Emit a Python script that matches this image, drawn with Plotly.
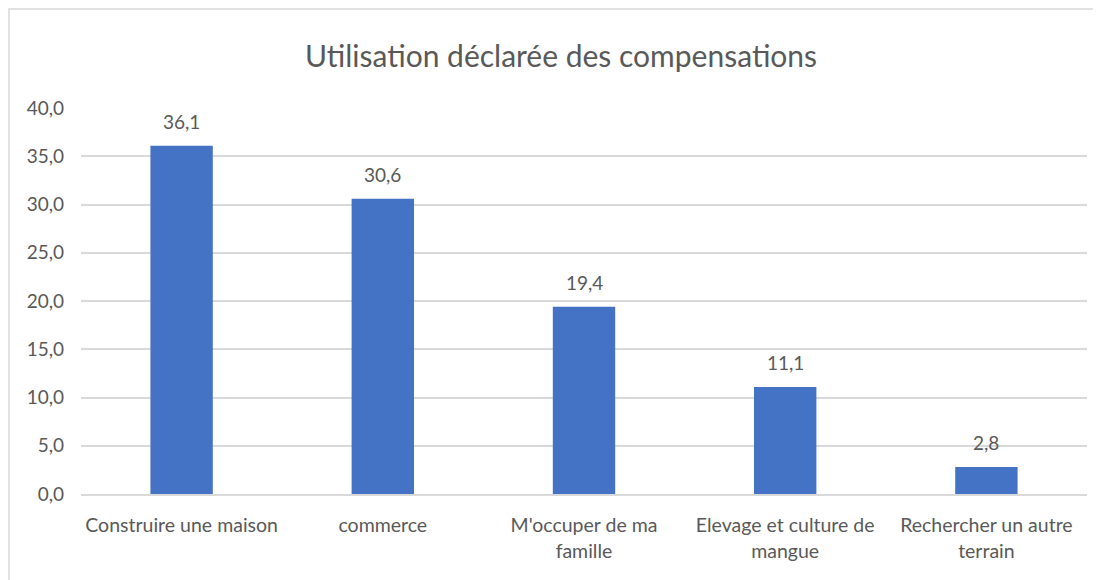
import plotly.graph_objects as go

categories = ["Construire une maison", "commerce", "M'occuper de ma<br>famille",
              "Elevage et culture de<br>mangue", "Rechercher un autre<br>terrain"]
values = [36.1, 30.6, 19.4, 11.1, 2.8]
value_labels = ["36,1", "30,6", "19,4", "11,1", "2,8"]
tick_vals = [0, 5, 10, 15, 20, 25, 30, 35, 40]
tick_text = ["0,0", "5,0", "10,0", "15,0", "20,0", "25,0", "30,0", "35,0", "40,0"]

FONT = "Lato"
TXT = "#595959"

# page body has an 8px margin: figure coordinates = page coordinates - 8
OFF = 8
PL, PR, PT, PB = 81 - OFF, 1087 - OFF, 108 - OFF, 494 - OFF
W, H = 1101 - OFF, 580 - OFF
PW, PH = PR - PL, PB - PT

fig = go.Figure()
fig.add_trace(go.Bar(x=categories, y=values, marker_color="#4472c4",
                     marker_line_width=0, hoverinfo="x+y"))

for c, v, t in zip(categories, values, value_labels):
    fig.add_annotation(x=c, y=v, text=t, showarrow=False, yanchor="bottom",
                       yshift=11, font=dict(family=FONT, size=19, color=TXT))

fig.add_annotation(xref="paper", yref="paper", x=(561 - OFF - PL) / PW, y=(PB - (55 - OFF)) / PH,
                   text="Utilisation déclarée des compensations", showarrow=False,
                   xanchor="center", yanchor="middle",
                   font=dict(family=FONT, size=30, color=TXT))

fig.add_shape(type="rect", xref="paper", yref="paper",
              x0=(9 - OFF - PL) / PW, x1=(1097 - OFF - PL) / PW,
              y0=(PB - (600 - OFF)) / PH, y1=(PB - (9 - OFF)) / PH,
              line=dict(color="#d9d9d9", width=1.5), fillcolor="rgba(0,0,0,0)", layer="below")

fig.update_layout(
    width=W, height=H,
    margin=dict(l=PL, r=W - PR, t=PT, b=H - PB),
    paper_bgcolor="white", plot_bgcolor="white",
    bargap=0.69, showlegend=False,
    font=dict(family=FONT, size=19, color=TXT),
)
fig.update_xaxes(showgrid=False, showline=True, linecolor="#d9d9d9", linewidth=1.5,
                 ticks="", tickfont=dict(family=FONT, size=19.5, color=TXT),
                 ticklabelstandoff=13)
fig.update_yaxes(range=[0, 40], tickvals=tick_vals, ticktext=tick_text,
                 showgrid=True, gridcolor="#d9d9d9", gridwidth=1.5, zeroline=False,
                 showline=False, ticks="", tickfont=dict(family=FONT, size=19, color=TXT),
                 ticklabelstandoff=16)

fig.write_html("out.html")
